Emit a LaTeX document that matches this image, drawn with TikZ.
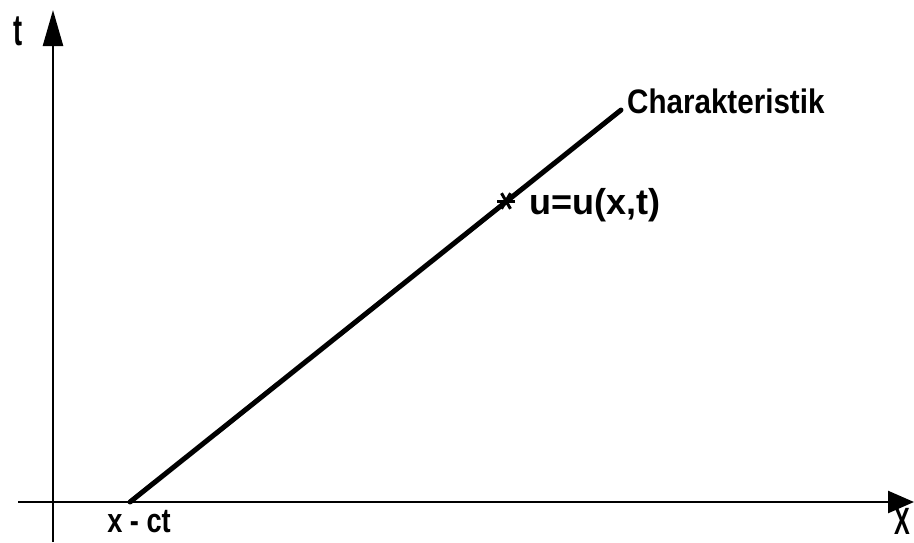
\documentclass[tikz,border=0pt]{standalone}
\usepackage{fontspec}
\setmainfont{Liberation Sans}
\newfontfamily\cond[FakeStretch=0.8]{Liberation Sans}
\newfontfamily\condw[FakeStretch=0.87]{Liberation Sans}
\newfontfamily\narrow[FakeStretch=0.62]{Liberation Sans}
\usetikzlibrary{arrows.meta}
\begin{document}
\begin{tikzpicture}[x=1pt,y=-1pt,
  lbl/.style={font=\cond\bfseries\fontsize{34}{34}\selectfont, inner sep=0pt},
  chlbl/.style={font=\condw\bfseries\fontsize{34}{34}\selectfont, inner sep=0pt},
  wide/.style={font=\bfseries\fontsize{36}{36}\selectfont, inner sep=0pt},
  tall/.style={font=\narrow\bfseries\fontsize{44}{44}\selectfont, inner sep=0pt},
  xlab/.style={font=\narrow\bfseries\fontsize{38}{38}\selectfont, inner sep=0pt},
  axis/.style={line width=2.5pt},
  charline/.style={line width=5pt, line cap=round}]
\useasboundingbox (0,0) rectangle (914,542);
% axes
\coordinate (tB) at (53,542);
\coordinate (tT) at (53,10);
\coordinate (xL) at (18,502);
\coordinate (xR) at (914,502);
\draw[axis, -{Triangle[length=36pt,width=20pt]}] (tB) -- (tT);
\draw[axis, -{Triangle[length=26pt,width=22pt]}] (xL) -- (xR);
% characteristic
\coordinate (c0) at (130,502);
\coordinate (c1) at (621,110);
\draw[charline] (c0) -- (c1);
\coordinate (star) at (506,201);
\foreach \a in {0,60,120} \draw[line width=3pt] (star) ++(\a:9) -- ++(\a+180:18);
% labels
\node[chlbl, anchor=west] (char) at (627,101) {Charakteristik};
\node[wide, anchor=west] (u) at (529,205) {u=u(x,t)};
\node[lbl] (xct) at (139,522) {x - ct};
\node[tall] (tl) at (18,31) {t};
\node[xlab] (xl) at (902,521) {X};
\end{tikzpicture}
\end{document}
